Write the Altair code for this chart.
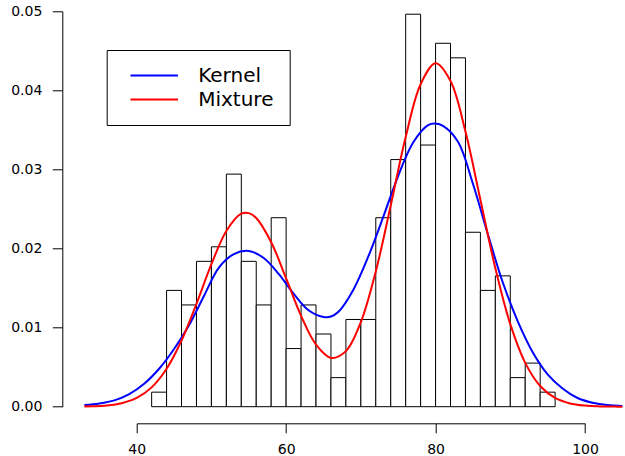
import altair as alt
import pandas as pd

# Histogram (Old Faithful waiting times), breaks every 2 from 42 to 96
bin_left = [42, 44, 46, 48, 50, 52, 54, 56, 58, 60, 62, 64, 66, 68,
            70, 72, 74, 76, 78, 80, 82, 84, 86, 88, 90, 92, 94]
bin_width = 2
counts = [1, 8, 7, 10, 11, 16, 10, 7, 13, 4, 7, 5, 2, 6,
          6, 13, 17, 27, 18, 25, 24, 12, 8, 9, 2, 3, 1]

# Kernel density curve
kernel_x = [33, 35, 37, 39, 41, 43, 45, 47, 49, 51, 53, 55, 57, 59, 61, 63, 65, 66, 67,
            69, 71, 73, 75, 77, 79, 80, 81, 83, 85, 87, 89, 91, 93, 95, 97, 99, 101, 103, 105]
kernel_y = [0.0002, 0.0004, 0.0008, 0.0016, 0.0029, 0.0048, 0.0073, 0.0103, 0.0140, 0.0176,
            0.0193, 0.0197, 0.0188, 0.0168, 0.0143, 0.0122, 0.01135, 0.0114, 0.0120,
            0.0148, 0.0190, 0.0240, 0.0292, 0.0334, 0.0356, 0.0358, 0.0355, 0.0335, 0.0282,
            0.0218, 0.0157, 0.0108, 0.0069, 0.0041, 0.0023, 0.0011, 0.0005, 0.0002, 0.0001]

# Mixture density curve
mix_x = [33, 34, 36, 38, 40, 42, 44, 46, 48, 50, 52, 54, 55, 56, 58, 60, 62, 64, 66, 68,
         70, 72, 74, 76, 78, 80, 82, 84, 86, 88, 90, 92, 94, 96, 98, 100, 102, 104, 105]
mix_y = [0.000028, 0.000052, 0.000161, 0.000448, 0.001109, 0.002442, 0.004792, 0.008369,
         0.013016, 0.018023, 0.022227, 0.024403, 0.024481, 0.023867, 0.020803, 0.016219,
         0.011483, 0.007841, 0.006171, 0.007026, 0.010703, 0.017107, 0.025459, 0.034101,
         0.040771, 0.043423, 0.041189, 0.034790, 0.026161, 0.017519, 0.010444, 0.005546,
         0.002621, 0.001103, 0.000413, 0.000138, 0.000041, 0.000011, 0.000005]

x_ticks = [40, 60, 80, 100]
y_ticks = [0.0, 0.01, 0.02, 0.03, 0.04, 0.05]

n_total = sum(counts)
hist = pd.DataFrame({
    "left": bin_left,
    "right": [b + bin_width for b in bin_left],
    "density": [c / (n_total * bin_width) for c in counts],
})
curves = pd.concat([
    pd.DataFrame({"x": kernel_x, "y": kernel_y, "series": "Kernel"}),
    pd.DataFrame({"x": mix_x, "y": mix_y, "series": "Mixture"}),
])

FONT = "DejaVu Sans"
xscale = alt.Scale(domain=[40, 100], nice=False, zero=False)
yscale = alt.Scale(domain=[0, 0.05], nice=False, zero=False)

xaxis = alt.Axis(values=x_ticks, title=None, grid=False, offset=16.6, tickSize=9.5,
                 domainColor="black", tickColor="black", labelColor="black",
                 labelFont=FONT, labelFontSize=14, labelPadding=10, labelFlush=False)
yaxis = alt.Axis(values=y_ticks, format=".2f", title=None, grid=False, offset=74.4,
                 tickSize=10, domainColor="black", tickColor="black", labelColor="black",
                 labelFont=FONT, labelFontSize=14, labelPadding=10.5, labelFlush=False)

bars = alt.Chart(hist).mark_rect(fill="white", stroke="black", strokeWidth=1).encode(
    x=alt.X("left:Q", scale=xscale, axis=xaxis),
    x2="right:Q",
    y=alt.Y("density:Q", scale=yscale, axis=yaxis),
    y2=alt.datum(0),
)

lines = alt.Chart(curves).mark_line(strokeWidth=2, interpolate="catmull-rom").encode(
    x=alt.X("x:Q", scale=xscale),
    y=alt.Y("y:Q", scale=yscale),
    color=alt.Color(
        "series:N",
        scale=alt.Scale(domain=["Kernel", "Mixture"], range=["#0000FF", "#FF0000"]),
        legend=alt.Legend(
            orient="none", legendX=-30, legendY=38.7, title=None,
            strokeColor="black", fillColor="white", padding=15.5,
            symbolType="stroke", symbolSize=2250, symbolStrokeWidth=2,
            clipHeight=20, rowPadding=4, symbolOffset=7, labelOffset=19,
            labelFont=FONT, labelFontSize=20, labelColor="black", labelLimit=300,
        ),
    ),
    order="x:Q",
)

chart = alt.layer(bars, lines).properties(
    width=448.3, height=395.4,
    autosize=alt.AutoSizeParams(type="none"),
    padding={"left": 136.7, "top": 11.3, "right": 40, "bottom": 49.3},
    background="white",
).configure_view(stroke=None)

chart.save("out.html", embed_options={"renderer": "svg", "actions": False})
